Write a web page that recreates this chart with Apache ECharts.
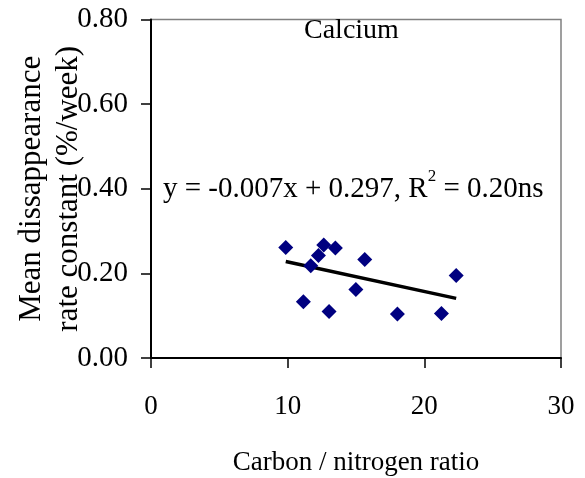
<!DOCTYPE html>
<html>
<head>
<meta charset="utf-8">
<script src="https://cdn.jsdelivr.net/npm/echarts@6/dist/echarts.min.js"></script>
<style>
html,body{margin:0;padding:0;background:#fff;}
#chart{width:585px;height:478px;}
</style>
</head>
<body>
<div id="chart"></div>
<script>
// Data
var cnRatio = [9.86, 11.15, 11.69, 12.25, 12.64, 13.03, 13.49, 14.99, 15.64, 18.03, 21.25, 22.33];
var rateConstant = [0.261, 0.133, 0.218, 0.242, 0.267, 0.110, 0.260, 0.162, 0.233, 0.104, 0.105, 0.195];
var trendX = [9.86, 22.33];
var trendY = [0.228, 0.141];
var xTicks = [0, 10, 20, 30];
var yTicks = [0.00, 0.20, 0.40, 0.60, 0.80];
var panelTitle = 'Calcium';
var xTitle = 'Carbon / nitrogen ratio';
var yTitle = 'Mean dissappearance\nrate constant (%/week)';

var FONT = '"Liberation Serif", "Times New Roman", serif';
var chart = echarts.init(document.getElementById('chart'), null, {renderer: 'canvas'});

var points = cnRatio.map(function (x, i) { return [x, rateConstant[i]]; });
var trend = trendX.map(function (x, i) { return [x, trendY[i]]; });

chart.setOption({
  animation: false,
  backgroundColor: '#ffffff',
  grid: {left: 151, right: 24, top: 19.5, bottom: 120, show: true, borderColor: '#808080', borderWidth: 1.5,
    backgroundColor: 'transparent', containLabel: false, outerBoundsMode: 'none'},
  xAxis: {
    type: 'value', min: xTicks[0], max: xTicks[xTicks.length - 1], interval: 10,
    axisLine: {lineStyle: {color: '#000', width: 2}},
    axisTick: {inside: false, length: 10, lineStyle: {color: '#000', width: 1.5}},
    splitLine: {show: false},
    axisLabel: {fontFamily: FONT, fontSize: 27, color: '#000', margin: 35},
    name: xTitle, nameLocation: 'middle', nameGap: 91, nameMoveOverlap: false,
    nameTextStyle: {fontFamily: FONT, fontSize: 27, color: '#000'}
  },
  yAxis: {
    type: 'value', min: yTicks[0], max: yTicks[yTicks.length - 1], interval: 0.2,
    axisLine: {lineStyle: {color: '#000', width: 2}},
    axisTick: {inside: false, length: 10, lineStyle: {color: '#000', width: 1.5}},
    splitLine: {show: false},
    axisLabel: {fontFamily: FONT, fontSize: 29, color: '#000', margin: 23,
      formatter: function (v) { return v.toFixed(2); }},
    name: yTitle, nameLocation: 'middle', nameGap: 64, nameRotate: 90, nameMoveOverlap: false,
    nameTextStyle: {fontFamily: FONT, fontSize: 31, color: '#000', lineHeight: 37, align: 'center'}
  },
  graphic: [
    {type: 'text', left: 351 - 47, top: 17, style: {text: panelTitle, font: '28px ' + FONT, fill: '#000'}},
    {type: 'text', left: 163, top: 168,
      style: {
        text: '{a|y = -0.007x + 0.297, R}{s|2}{a| = 0.20ns}',
        rich: {
          a: {fontFamily: FONT, fontSize: 29, fill: '#000', color: '#000', lineHeight: 36, verticalAlign: 'bottom'},
          s: {fontFamily: FONT, fontSize: 17, fill: '#000', color: '#000', lineHeight: 36, verticalAlign: 'top'}
        }
      }
    }
  ],
  series: [
    {type: 'line', data: trend, showSymbol: false, symbol: 'none', lineStyle: {color: '#000', width: 3.5}, z: 3},
    {type: 'scatter', data: points, symbol: 'diamond', symbolSize: 15, itemStyle: {color: '#000080', opacity: 1}, z: 4}
  ]
});
</script>
</body>
</html>
